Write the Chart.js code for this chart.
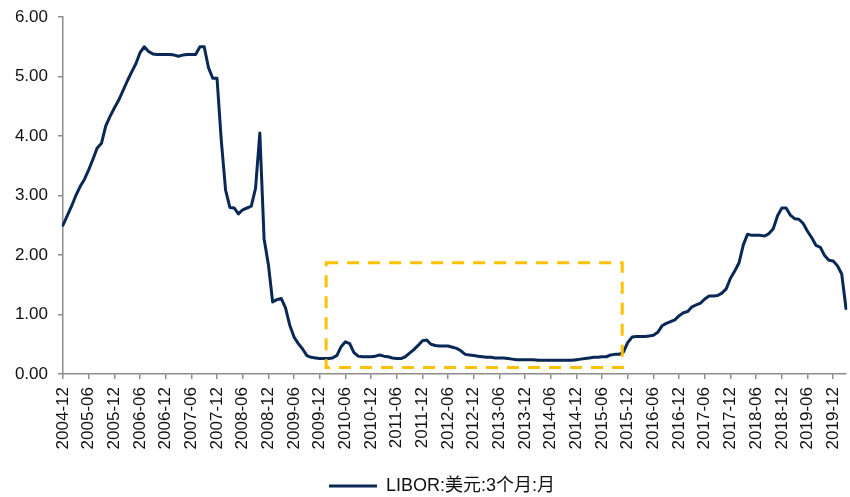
<!DOCTYPE html>
<html>
<head>
<meta charset="utf-8">
<script src="https://cdn.jsdelivr.net/npm/chart.js@4/dist/chart.umd.min.js"></script>
<style>
  html, body { margin: 0; padding: 0; background: #ffffff; }
  #wrap { width: 850px; height: 497px; position: relative; }
</style>
</head>
<body>
<div id="wrap"><canvas id="chart"></canvas></div>
<script>
// Monthly periods, 2004-12 .. 2020-03
const months = [
  '2004-12',
  '2005-01','2005-02','2005-03','2005-04','2005-05','2005-06','2005-07','2005-08','2005-09','2005-10','2005-11','2005-12',
  '2006-01','2006-02','2006-03','2006-04','2006-05','2006-06','2006-07','2006-08','2006-09','2006-10','2006-11','2006-12',
  '2007-01','2007-02','2007-03','2007-04','2007-05','2007-06','2007-07','2007-08','2007-09','2007-10','2007-11','2007-12',
  '2008-01','2008-02','2008-03','2008-04','2008-05','2008-06','2008-07','2008-08','2008-09','2008-10','2008-11','2008-12',
  '2009-01','2009-02','2009-03','2009-04','2009-05','2009-06','2009-07','2009-08','2009-09','2009-10','2009-11','2009-12',
  '2010-01','2010-02','2010-03','2010-04','2010-05','2010-06','2010-07','2010-08','2010-09','2010-10','2010-11','2010-12',
  '2011-01','2011-02','2011-03','2011-04','2011-05','2011-06','2011-07','2011-08','2011-09','2011-10','2011-11','2011-12',
  '2012-01','2012-02','2012-03','2012-04','2012-05','2012-06','2012-07','2012-08','2012-09','2012-10','2012-11','2012-12',
  '2013-01','2013-02','2013-03','2013-04','2013-05','2013-06','2013-07','2013-08','2013-09','2013-10','2013-11','2013-12',
  '2014-01','2014-02','2014-03','2014-04','2014-05','2014-06','2014-07','2014-08','2014-09','2014-10','2014-11','2014-12',
  '2015-01','2015-02','2015-03','2015-04','2015-05','2015-06','2015-07','2015-08','2015-09','2015-10','2015-11','2015-12',
  '2016-01','2016-02','2016-03','2016-04','2016-05','2016-06','2016-07','2016-08','2016-09','2016-10','2016-11','2016-12',
  '2017-01','2017-02','2017-03','2017-04','2017-05','2017-06','2017-07','2017-08','2017-09','2017-10','2017-11','2017-12',
  '2018-01','2018-02','2018-03','2018-04','2018-05','2018-06','2018-07','2018-08','2018-09','2018-10','2018-11','2018-12',
  '2019-01','2019-02','2019-03','2019-04','2019-05','2019-06','2019-07','2019-08','2019-09','2019-10','2019-11','2019-12',
  '2020-01','2020-02','2020-03'
];

// USD 3M LIBOR, monthly (%)
const libor3m = [
  2.50,
  2.66, 2.82, 3.00, 3.15, 3.27, 3.43, 3.61, 3.80, 3.88, 4.17, 4.33, 4.47,
  4.60, 4.76, 4.92, 5.07, 5.21, 5.40, 5.50, 5.42, 5.38, 5.37, 5.37, 5.37,
  5.37, 5.36, 5.34, 5.36, 5.37, 5.37, 5.37, 5.50, 5.50, 5.15, 4.97, 4.97,
  3.92, 3.09, 2.80, 2.79, 2.69, 2.76, 2.79, 2.82, 3.12, 4.05, 2.27, 1.84,
  1.21, 1.25, 1.27, 1.11, 0.82, 0.62, 0.51, 0.42, 0.31, 0.28, 0.27, 0.26,
  0.26, 0.26, 0.27, 0.31, 0.46, 0.54, 0.51, 0.36, 0.30, 0.29, 0.29, 0.29,
  0.30, 0.32, 0.30, 0.29, 0.27, 0.26, 0.26, 0.29, 0.35, 0.41, 0.48, 0.56,
  0.57, 0.50, 0.48, 0.47, 0.47, 0.47, 0.45, 0.43, 0.39, 0.33, 0.32, 0.31,
  0.30, 0.29, 0.28, 0.28, 0.27, 0.27, 0.27, 0.26, 0.25, 0.24, 0.24, 0.24,
  0.24, 0.24, 0.23, 0.23, 0.23, 0.23, 0.23, 0.23, 0.23, 0.23, 0.23, 0.24,
  0.25, 0.26, 0.27, 0.28, 0.28, 0.29, 0.29, 0.32, 0.33, 0.33, 0.37, 0.53,
  0.62, 0.63, 0.63, 0.63, 0.64, 0.65, 0.70, 0.81, 0.85, 0.88, 0.91, 0.98,
  1.03, 1.05, 1.13, 1.16, 1.19, 1.26, 1.31, 1.31, 1.32, 1.36, 1.43, 1.61,
  1.73, 1.87, 2.17, 2.35, 2.33, 2.33, 2.33, 2.32, 2.36, 2.44, 2.66, 2.79,
  2.79, 2.67, 2.61, 2.60, 2.53, 2.40, 2.29, 2.16, 2.13, 1.99, 1.91, 1.90,
  1.82, 1.68, 1.10
];

const seriesName = 'LIBOR:美元:3个月:月';
const yTickValues = [0, 1, 2, 3, 4, 5, 6];

// Near-zero-rate period outlined with a dashed frame (category index span, % span)
const zeroRateSpan = { from: 61.5, to: 130.7, low: 0.11, high: 1.87 };

const AXIS_GREY = '#8C8C8C';
const LINE_NAVY = '#0A2856';
const FRAME_GOLD = '#FFC000';
const LEGEND_SHIFT = 19;

Chart.defaults.font.family = "'Liberation Sans', Arial, 'Noto Sans CJK SC', sans-serif";
Chart.defaults.color = '#111111';

const dashedFrame = {
  id: 'dashedFrame',
  afterDatasetsDraw(chart) {
    const { ctx, scales: { x, y } } = chart;
    const left = x.getPixelForValue(zeroRateSpan.from);
    const right = x.getPixelForValue(zeroRateSpan.to);
    const top = y.getPixelForValue(zeroRateSpan.high);
    const bottom = y.getPixelForValue(zeroRateSpan.low);
    ctx.save();
    ctx.strokeStyle = FRAME_GOLD;
    ctx.lineWidth = 3;
    ctx.setLineDash([12, 9]);
    ctx.beginPath();
    ctx.moveTo(left, top);
    ctx.lineTo(right, top);
    ctx.lineTo(right, bottom);
    ctx.lineTo(left, bottom);
    ctx.closePath();
    ctx.stroke();
    ctx.restore();
  }
};

// nudges the bottom legend a little to the right of the canvas centre
const legendNudge = {
  id: 'legendNudge',
  afterLayout(chart) {
    if (chart.legend) {
      chart.legend.left += LEGEND_SHIFT;
      chart.legend.right += LEGEND_SHIFT;
    }
  }
};

new Chart(document.getElementById('chart'), {
  type: 'line',
  data: {
    labels: months,
    datasets: [{
      label: seriesName,
      data: libor3m,
      borderColor: LINE_NAVY,
      backgroundColor: LINE_NAVY,
      borderWidth: 3,
      pointRadius: 0,
      tension: 0,
      borderJoinStyle: 'round',
      borderCapStyle: 'round',
      fill: false
    }]
  },
  options: {
    responsive: true,
    maintainAspectRatio: false,
    animation: false,
    devicePixelRatio: 1,
    layout: { padding: { left: 0, right: 4, top: 17, bottom: -8 } },
    plugins: {
      tooltip: { enabled: false },
      legend: {
        position: 'bottom',
        align: 'center',
        labels: {
          font: { size: 18 },
          color: '#111111',
          boxWidth: 48,
          boxHeight: 3,
          padding: 10,
          generateLabels(chart) {
            // flat line swatch: filled bar only, no outline
            return Chart.defaults.plugins.legend.labels.generateLabels(chart).map(item => ({
              ...item,
              lineWidth: 0,
              strokeStyle: 'rgba(0,0,0,0)'
            }));
          }
        }
      }
    },
    scales: {
      x: {
        type: 'category',
        offset: false,
        afterBuildTicks(scale) {
          scale.ticks = scale.ticks.filter(t => t.value % 6 === 0);
        },
        afterFit(scale) {
          scale.height = 93;
          scale.paddingLeft = 0;
          scale.paddingRight = 0;
        },
        grid: {
          display: true,
          drawOnChartArea: false,
          drawTicks: true,
          tickLength: 5,
          color: AXIS_GREY,
          lineWidth: 1.5
        },
        border: { display: true, color: AXIS_GREY, width: 1.5 },
        ticks: {
          autoSkip: false,
          minRotation: 90,
          maxRotation: 90,
          padding: 8,
          font: { size: 17 },
          color: '#111111',
          callback(value) { return months[value]; }
        }
      },
      y: {
        min: 0,
        max: 6,
        afterBuildTicks(scale) {
          scale.ticks = yTickValues.map(v => ({ value: v }));
        },
        afterFit(scale) {
          scale.width = 63;
          scale.paddingTop = 0;
          scale.paddingBottom = 0;
        },
        grid: {
          display: true,
          drawOnChartArea: false,
          drawTicks: true,
          tickLength: 5,
          color: AXIS_GREY,
          lineWidth: 1.5
        },
        border: { display: true, color: AXIS_GREY, width: 1.5 },
        ticks: {
          padding: 10,
          font: { size: 17 },
          color: '#111111',
          callback(value) { return Number(value).toFixed(2); }
        }
      }
    }
  },
  plugins: [dashedFrame, legendNudge]
});
</script>
</body>
</html>
